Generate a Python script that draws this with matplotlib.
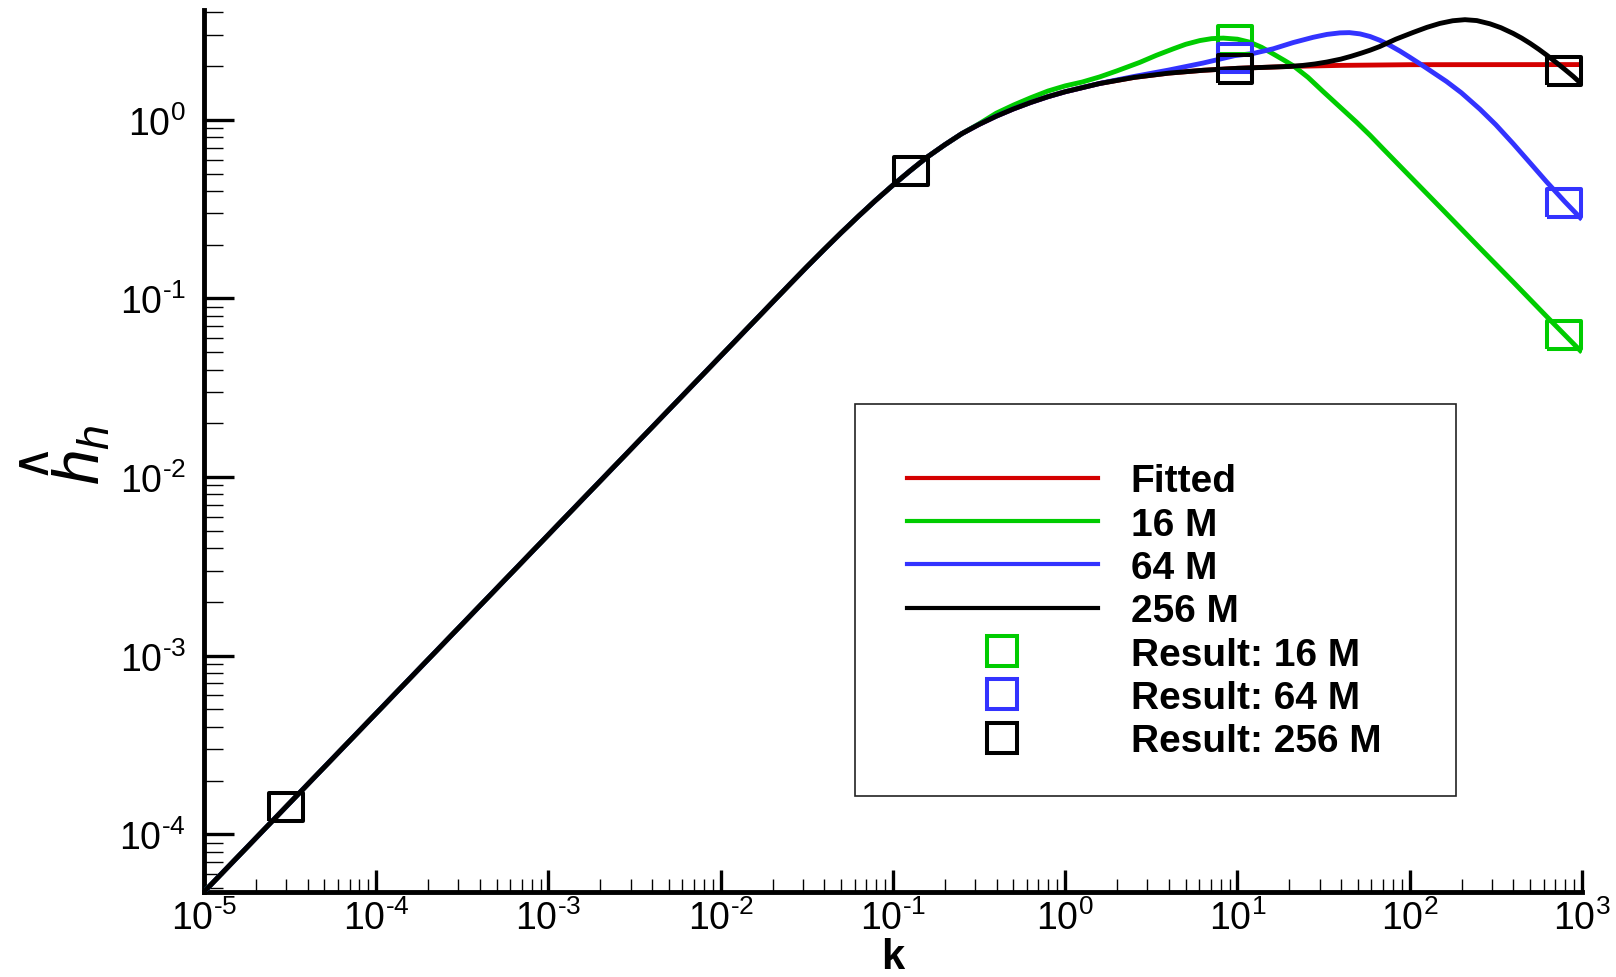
import matplotlib
matplotlib.use("Agg")
import matplotlib.pyplot as plt
import numpy as np
from matplotlib.lines import Line2D
from matplotlib.patches import Rectangle
from matplotlib.ticker import LogLocator, NullFormatter, FixedLocator, FixedFormatter

plt.rcParams['font.family'] = ['Liberation Sans', 'DejaVu Sans']
plt.rcParams['mathtext.fontset'] = 'custom'
plt.rcParams['mathtext.rm'] = 'Liberation Sans'
plt.rcParams['mathtext.it'] = 'Liberation Sans:italic'
plt.rcParams['mathtext.bf'] = 'Liberation Sans:bold'

# ---------------- data ----------------
# shared low-k branch (all curves coincide here)
k_common = [1e-5, 1e-4, 1e-3, 0.01, 0.0251, 0.0316, 0.0398, 0.0501, 0.0631, 0.0794,
            0.1, 0.126, 0.158, 0.200, 0.251, 0.316, 0.398, 0.501, 0.631, 0.794,
            1.0, 1.585, 2.512, 3.981, 6.310, 10.0, 19.95]
h_common = [4.76e-5, 4.76e-4, 4.76e-3, 0.0476, 0.1196, 0.1502, 0.1877, 0.2336, 0.2888, 0.3545,
            0.4311, 0.5194, 0.6188, 0.7254, 0.837, 0.943, 1.049, 1.152, 1.252, 1.348,
            1.437, 1.598, 1.729, 1.827, 1.895, 1.944, 1.991]

# Fitted tail
k_fit_tail = [39.81, 100, 1000]
h_fit_tail = [2.019, 2.037, 2.04]

# 16 M (branches off after k = 0.251)
k_16_tail = [0.316, 0.398, 0.501, 0.631, 0.794, 1.0, 1.259, 1.585, 1.995, 2.716, 3.388,
             4.246, 5.012, 6.053, 7.079, 8.279, 10.0, 11.83, 13.80, 16.14, 18.62, 21.09,
             25.70, 31.48, 39.81, 49.20, 58.88, 69.98, 100, 158.5, 251.2, 398.1, 626.6, 1000]
h_16_tail = [0.95, 1.09, 1.21, 1.33, 1.45, 1.55, 1.63, 1.74, 1.88, 2.10, 2.30,
             2.50, 2.65, 2.78, 2.85, 2.87, 2.83, 2.72, 2.55, 2.34, 2.16, 2.01,
             1.73, 1.44, 1.17, 0.97, 0.82, 0.69, 0.485, 0.308, 0.195, 0.124, 0.079, 0.050]

# 64 M (branches off after k = 1.0)
k_64_tail = [1.585, 2.512, 3.981, 6.31, 9.66, 12.36, 16.14, 21.09, 27.54, 33.11, 39.36,
             44.67, 51.52, 58.88, 67.14, 75.86, 87.70, 100, 119.4, 163.7, 199.5, 255.9,
             316.2, 399.0, 501.2, 623.7, 794.3, 1000]
h_64_tail = [1.60, 1.75, 1.90, 2.08, 2.29, 2.355, 2.50, 2.71, 2.90, 3.01, 3.07,
             3.08, 3.03, 2.93, 2.79, 2.63, 2.43, 2.245, 2.01, 1.64, 1.419, 1.148,
             0.940, 0.736, 0.573, 0.450, 0.349, 0.277]

# 256 M (branches off after k = 19.95)
k_256_tail = [23.99, 28.18, 33.11, 39.81, 45.71, 52.48, 58.88, 67.14, 83.18, 105.0, 125.9,
              149.6, 177.8, 209.4, 245.5, 292.4, 338.8, 399.0, 446.7, 501.2, 562.3, 623.7,
              707.9, 794.3, 891.3, 1000]
h_256_tail = [2.018, 2.056, 2.109, 2.188, 2.270, 2.366, 2.455, 2.576, 2.831, 3.090, 3.296,
              3.467, 3.589, 3.639, 3.597, 3.451, 3.281, 3.048, 2.871, 2.679, 2.483, 2.307,
              2.099, 1.919, 1.750, 1.58]

# result markers
res16_k = [9.72, 791]
res16_h = [2.79, 0.0625]
res64_k = [9.72, 791]
res64_h = [2.22, 0.343]
res256_k = [3.0e-5, 0.127, 9.72, 791]
res256_h = [1.415e-4, 0.515, 1.92, 1.89]

x_ticks = [1e-5, 1e-4, 1e-3, 1e-2, 1e-1, 1e0, 1e1, 1e2, 1e3]
x_tick_labels = [r'$10^{\text{-}5}$', r'$10^{\text{-}4}$', r'$10^{\text{-}3}$',
                 r'$10^{\text{-}2}$', r'$10^{\text{-}1}$', r'$10^{0}$', r'$10^{1}$',
                 r'$10^{2}$', r'$10^{3}$']
y_ticks = [1e-4, 1e-3, 1e-2, 1e-1, 1e0]
y_tick_labels = [r'$10^{\text{-}4}$', r'$10^{\text{-}3}$', r'$10^{\text{-}2}$',
                 r'$10^{\text{-}1}$', r'$10^{0}$']

labels = ['Fitted', '16 M', '64 M', '256 M', 'Result: 16 M', 'Result: 64 M', 'Result: 256 M']
c_red, c_green, c_blue, c_black = '#d40000', '#00cc00', '#3333ff', '#000000'

# ---------------- figure ----------------
fig = plt.figure(figsize=(16.16, 9.78), dpi=100)
ax = fig.add_axes([0.1262, 0.0869, 0.8527, 0.9018])

lw = 3.5
ax.plot(k_common + k_fit_tail, h_common + h_fit_tail, color=c_red, lw=lw, zorder=2,
        solid_capstyle='butt', solid_joinstyle='round')
i16 = k_common.index(0.251) + 1
ax.plot(k_common[:i16] + k_16_tail, h_common[:i16] + h_16_tail, color=c_green, lw=lw,
        zorder=3, solid_capstyle='butt', solid_joinstyle='round')
i64 = k_common.index(1.0) + 1
ax.plot(k_common[:i64] + k_64_tail, h_common[:i64] + h_64_tail, color=c_blue, lw=lw,
        zorder=4, solid_capstyle='butt', solid_joinstyle='round')
ax.plot(k_common + k_256_tail, h_common + h_256_tail, color=c_black, lw=lw,
        zorder=5, solid_capstyle='butt', solid_joinstyle='round')

rect_marker = [(-1, -0.86), (1, -0.86), (1, 0.86), (-1, 0.86), (-1, -0.86)]
ms, mew = 24, 2.9
for kk, hh, col, z in [(res16_k, res16_h, c_green, 6), (res64_k, res64_h, c_blue, 7),
                       (res256_k, res256_h, c_black, 8)]:
    ax.plot(kk, hh, linestyle='none', marker=rect_marker, markersize=ms,
            markerfacecolor='none', markeredgecolor=col, markeredgewidth=mew, zorder=z,
            clip_on=False)

ax.set_xscale('log')
ax.set_yscale('log')
ax.set_xlim(1e-5, 1e3)
ax.set_ylim(4.755e-5, 4.12)

ax.xaxis.set_major_locator(FixedLocator(x_ticks))
ax.xaxis.set_major_formatter(FixedFormatter(x_tick_labels))
ax.yaxis.set_major_locator(FixedLocator(y_ticks))
ax.yaxis.set_major_formatter(FixedFormatter(y_tick_labels))
ax.xaxis.set_minor_locator(LogLocator(base=10, subs=np.arange(2, 10), numticks=100))
ax.yaxis.set_minor_locator(LogLocator(base=10, subs=np.arange(2, 10), numticks=100))
ax.xaxis.set_minor_formatter(NullFormatter())
ax.yaxis.set_minor_formatter(NullFormatter())

ax.tick_params(axis='y', which='major', direction='in', length=21.6, width=2.4, pad=13,
               labelsize=27)
ax.tick_params(axis='y', which='minor', direction='in', length=13.7, width=1.0)
ax.tick_params(axis='x', which='major', direction='in', length=15.8, width=2.4, pad=5,
               labelsize=27)
ax.tick_params(axis='x', which='minor', direction='in', length=9.4, width=1.0)

for s in ['top', 'right']:
    ax.spines[s].set_visible(False)
for s in ['left', 'bottom']:
    ax.spines[s].set_linewidth(3.5)

ax.set_xlabel('k', fontsize=30, fontweight='bold', labelpad=0)
# y label: italic h with subscript h, plus a large hat (wedge) above it
ax.set_ylabel(r'$h_h$', fontsize=46, labelpad=0)
ax.yaxis.set_label_coords(-0.066, 0.497)
fig.text(0.0225, 0.524, r'$\wedge$', fontsize=36, rotation=90,
         ha='center', va='center', math_fontfamily='dejavusans')

# legend
handles = [Line2D([], [], color=c_red, lw=3),
           Line2D([], [], color=c_green, lw=3),
           Line2D([], [], color=c_blue, lw=3),
           Line2D([], [], color=c_black, lw=3),
           Line2D([], [], ls='none', marker='s', ms=22, mfc='none', mec=c_green, mew=2.9),
           Line2D([], [], ls='none', marker='s', ms=22, mfc='none', mec=c_blue, mew=2.9),
           Line2D([], [], ls='none', marker='s', ms=22, mfc='none', mec=c_black, mew=2.9)]
leg = fig.legend(handles, labels, loc='upper left', bbox_to_anchor=(0.5613, 0.5254),
                 frameon=False, borderpad=0, borderaxespad=0, handlelength=4.9,
                 handletextpad=0.85, labelspacing=0.19,
                 prop={'family': 'Liberation Sans', 'weight': 'bold', 'size': 28})
fig.patches.append(Rectangle((0.529, 0.185), 0.372, 0.401, transform=fig.transFigure,
                             fill=False, edgecolor='#222222', lw=1.2))

fig.savefig('out.png', dpi=100, facecolor='white')
